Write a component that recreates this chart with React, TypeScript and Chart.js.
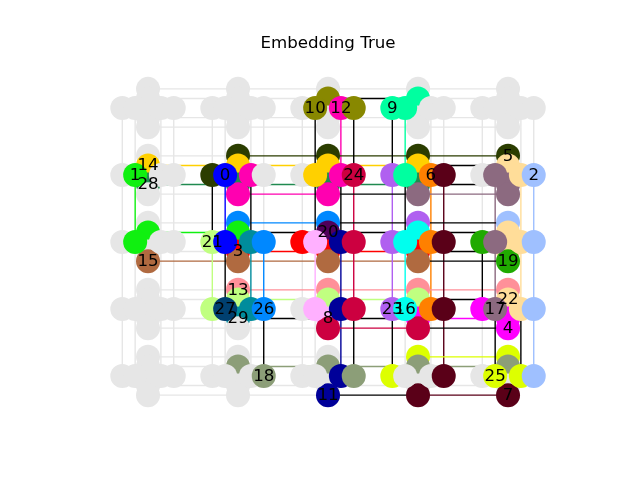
import React, { useEffect, useRef } from 'react';
import { Chart, registerables } from 'chart.js';

Chart.register(...registerables);

// Chimera lattice size: rows x cols of unit cells, each with two shores of SHORE qubits
const ROWS = 5;
const COLS = 5;
const SHORE = 4;

const titleText = 'Embedding True';

// Chain (variable) names
const chainNames = [
  '0', '1', '2', '3', '4', '5', '6', '7', '8', '9',
  '10', '11', '12', '13', '14', '15', '16', '17', '18', '19',
  '20', '21', '22', '23', '24', '25', '26', '27', '28', '29',
];

// Chain colours
const chainColors = [
  '#0000ff', '#10f010', '#9fc0ff', '#ff0000', '#ff00ff', '#2b3d00', '#ff8000', '#5a0018', '#ffb0ff', '#00ffa0',
  '#888800', '#000099', '#ff00b0', '#ff9099', '#ffd000', '#b06a40', '#00ffee', '#8c6a80', '#8c9e78', '#20aa00',
  '#50005a', '#c0ff80', '#ffdd99', '#b060f0', '#cc0040', '#ddff00', '#0088ff', '#004070', '#208a50', '#008c9c',
];

// Qubits of each chain, coded as row, col, shore (H = horizontal row, V = vertical column), index
const chainQubits = [
  ['11H1', '21H1'],
  ['10H1', '20H1', '20V1', '21V1'],
  ['14H3', '24H3', '24V0', '34H3', '44H3'],
  ['21V2', '22V2', '22H0', '23V2'],
  ['34H0', '34V2', '34V3', '33V2'],
  ['11H0', '11V0', '12V0', '13V0', '14V0'],
  ['13H2', '23H2', '33H2'],
  ['13H3', '23H3', '33H3', '43H3', '43V3', '44V3'],
  ['22H1', '32H1', '32V2'],
  ['03H0', '03H1', '03V1', '13H1'],
  ['02H1', '02H3', '02V1'],
  ['22H2', '32H2', '42H2', '42V3'],
  ['02H2', '12H2', '12V3', '11H2', '11V3'],
  ['31V0', '32V0', '33V0', '34V0'],
  ['10V1', '11V1', '12V1', '12H1', '13V1'],
  ['20V3', '21V3', '22V3', '23V3'],
  ['23V1', '23H1', '33H1'],
  ['13V3', '14V2', '14H1', '14V3', '24H1', '34H1'],
  ['41V1', '41H3', '42V1', '42H3', '43V1', '44V1'],
  ['24H0', '24V3'],
  ['22V1'],
  ['21H0', '31H0', '31V1', '32V1', '33V1'],
  ['14V1', '14H2', '24V1', '24H2', '24V2', '34V1', '34H2'],
  ['13H0', '23H0', '23V0', '33H0'],
  ['12H3', '22H3', '32H3', '32V3', '33V3'],
  ['43H0', '43V0', '44V0', '44H1', '44H2'],
  ['21V0', '21H3', '22V0', '31H3'],
  ['31H1'],
  ['10V2', '11V2', '12V2', '13V2'],
  ['21H2', '31H2', '31V2'],
];

// Qubit that carries each chain's label
const labelQubits = [
  '11H1', '10H1', '14H3', '21V2', '34V3', '14V0', '13H2', '44V3', '32V2', '03H0',
  '02H1', '42V3', '02H2', '31V0', '10V1', '20V3', '33H1', '34H1', '41H3', '24V3',
  '22V1', '21H0', '34V1', '33H0', '12H3', '44H1', '31H3', '31H1', '10V2', '31V2',
];

const unusedColor = 'rgb(230,230,230)';
const interactionColor = '#000000';

const qid = (r: number, c: number, u: number, k: number) => ((r * COLS + c) * 2 + u) * SHORE + k;

const qubitIndex = (code: string) =>
  qid(Number(code[0]), Number(code[1]), code[2] === 'H' ? 0 : 1, Number(code[3]));

// chimera 2d placement (cross per unit cell)
const layoutOf = (q: number) => {
  const k = q % SHORE;
  const u = Math.floor(q / SHORE) % 2;
  const cell = Math.floor(q / (2 * SHORE));
  const c = cell % COLS;
  const r = Math.floor(cell / COLS);
  const tc = SHORE / 2;
  const tl = SHORE + 3;
  const p = k < tc ? k : k + 1;
  return u === 0 ? { x: c * tl + p, y: r * tl + tc } : { x: c * tl + tc, y: r * tl + p };
};

function buildGraph() {
  const nodes: number[] = [];
  const edges: [number, number][] = [];
  for (let c = 0; c < COLS; c++) {
    for (let r = 0; r < ROWS; r++) {
      for (let k0 = 0; k0 < SHORE; k0++) {
        for (let k1 = 0; k1 < SHORE; k1++) edges.push([qid(r, c, 0, k0), qid(r, c, 1, k1)]);
      }
      nodes.push(qid(r, c, 0, 0));
      for (let k = 0; k < SHORE; k++) nodes.push(qid(r, c, 1, k));
      for (let k = 1; k < SHORE; k++) nodes.push(qid(r, c, 0, k));
    }
  }
  for (let r = 0; r < ROWS; r++)
    for (let c = 0; c < COLS - 1; c++)
      for (let k = 0; k < SHORE; k++) edges.push([qid(r, c, 1, k), qid(r, c + 1, 1, k)]);
  for (let r = 0; r < ROWS - 1; r++)
    for (let c = 0; c < COLS; c++)
      for (let k = 0; k < SHORE; k++) edges.push([qid(r, c, 0, k), qid(r + 1, c, 0, k)]);
  return { nodes, edges };
}

export default function App() {
  const canvasRef = useRef<HTMLCanvasElement | null>(null);

  useEffect(() => {
    if (!canvasRef.current) return;
    const { nodes, edges } = buildGraph();
    const owner = new Map<number, number>();
    chainQubits.forEach((list, ci) => list.forEach((code) => owner.set(qubitIndex(code), ci)));

    const bg: any[] = [];
    const groups = new Map<string, any[]>();
    for (const [a, b] of edges) {
      const ca = owner.get(a);
      const cb = owner.get(b);
      const pa = layoutOf(a);
      const pb = layoutOf(b);
      const seg = [pa, pb, { x: NaN, y: NaN }];
      if (ca === undefined || cb === undefined) {
        bg.push(...seg);
      } else {
        const col = ca === cb ? chainColors[ca] : interactionColor;
        if (!groups.has(col)) groups.set(col, []);
        groups.get(col)!.push(...seg);
      }
    }

    const datasets: any[] = [];
    datasets.push({
      label: 'unused couplers',
      data: bg,
      showLine: true,
      spanGaps: false,
      borderColor: unusedColor,
      borderWidth: 1.4,
      pointRadius: 0,
      order: 3,
      clip: false,
    });
    groups.forEach((data, col) => {
      datasets.push({
        label: 'couplers ' + col,
        data,
        showLine: true,
        spanGaps: false,
        borderColor: col,
        borderWidth: 1.4,
        pointRadius: 0,
        order: 2,
        clip: false,
      });
    });
    datasets.push({
      label: 'qubits',
      data: nodes.map((q) => layoutOf(q)),
      showLine: false,
      pointRadius: 12,
      pointHoverRadius: 12,
      pointBorderWidth: 0,
      pointBorderColor: 'rgba(0,0,0,0)',
      pointBackgroundColor: nodes.map((q) => {
        const ci = owner.get(q);
        return ci === undefined ? unusedColor : chainColors[ci];
      }),
      order: 1,
      clip: false,
    });

    const labelPlugin = {
      id: 'chainLabels',
      afterDatasetsDraw(chart: any) {
        const ctx = chart.ctx;
        const xs = chart.scales.x;
        const ys = chart.scales.y;
        ctx.save();
        ctx.font = '16.67px "DejaVu Sans"';
        ctx.fillStyle = '#000';
        ctx.textAlign = 'center';
        ctx.textBaseline = 'middle';
        labelQubits.forEach((code, i) => {
          const p = layoutOf(qubitIndex(code));
          ctx.fillText(chainNames[i], xs.getPixelForValue(p.x), ys.getPixelForValue(p.y) + 0.5);
        });
        ctx.restore();
      },
    };

    const chart = new Chart(canvasRef.current, {
      type: 'scatter',
      data: { datasets },
      options: {
        animation: false,
        responsive: false,
        events: [],
        layout: { padding: { left: 16, right: 0, top: 0, bottom: 0 }, autoPadding: false },
        plugins: {
          legend: { display: false },
          tooltip: { enabled: false },
          title: {
            display: true,
            text: titleText,
            color: '#000',
            font: { family: 'DejaVu Sans', size: 16.67, weight: 'normal' },
            padding: { top: 34, bottom: 6 },
          },
        },
        scales: {
          x: { type: 'linear', display: false, min: -8.268, max: 40.265 },
          y: { type: 'linear', display: false, reverse: true, min: -3.015, max: 40.866 },
        },
      },
      plugins: [labelPlugin],
    });
    return () => chart.destroy();
  }, []);

  return (
    <div style={{ position: 'absolute', left: 0, top: 0, width: 640, height: 480, background: '#fff' }}>
      <canvas ref={canvasRef} width={640} height={480} />
    </div>
  );
}
